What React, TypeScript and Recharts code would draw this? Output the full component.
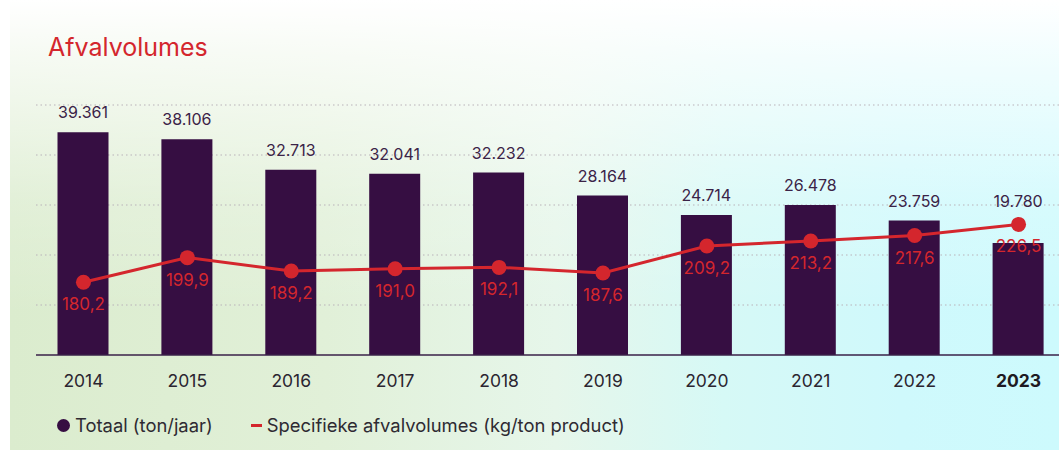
import React from "react";
import { ComposedChart, Bar, Line, XAxis, YAxis, CartesianGrid, LabelList } from "recharts";

const years = ["2014", "2015", "2016", "2017", "2018", "2019", "2020", "2021", "2022", "2023"];
const totals = [39361, 38106, 32713, 32041, 32232, 28164, 24714, 26478, 23759, 19780];
const specific = [180.2, 199.9, 189.2, 191.0, 192.1, 187.6, 209.2, 213.2, 217.6, 226.5];
const gridTicks = [162, 202, 242, 282, 322];
const lineDomain = [122, 362];
const highlightYear = "2023";
const title = "Afvalvolumes";
const legendTotal = "Totaal (ton/jaar)";
const legendSpecific = "Specifieke afvalvolumes (kg/ton product)";

const data = years.map((y, i) => ({ year: y, total: totals[i], specific: specific[i] }));

const FONT = "Inter, 'Noto Sans', sans-serif";
const PURPLE = "#360e42";
const RED = "#d4262d";

const fmtThousands = (v: any) => {
  const s = String(Math.round(Number(v)));
  return s.replace(/\B(?=(\d{3})+(?!\d))/g, ".");
};
const fmtComma = (v: any) => Number(v).toFixed(1).replace(".", ",");

const Tick = (props: any) => {
  const { x, y, payload } = props;
  const bold = payload.value === highlightYear;
  return (
    <text x={x} y={y + 24} textAnchor="middle" fontFamily={FONT} fontSize={17.5}
      fontWeight={bold ? 700 : 400} fill={bold ? "#1e1a22" : "#2b2530"}>
      {payload.value}
    </text>
  );
};

const BarLabel = (props: any) => {
  const { x, y, width, value, index } = props;
  const isHighlight = years[index] === highlightYear;
  const off = isHighlight ? 36 : 14;
  return (
    <text x={x + width / 2} y={y - off} textAnchor="middle" fontFamily={FONT} fontSize={16} fill="#3b2347">
      {fmtThousands(value)}
    </text>
  );
};

const gridGen = (args: any) => {
  const yAxis = args && args.yAxis;
  if (yAxis && typeof yAxis.scale === "function") return gridTicks.map((t) => yAxis.scale(t));
  const off = args && args.offset;
  if (!off) return [];
  return gridTicks.map((t) => off.top + off.height * (1 - (t - lineDomain[0]) / (lineDomain[1] - lineDomain[0])));
};

export default function App() {
  return (
    <div style={{ position: "absolute", left: 0, top: 0, width: 1059, height: 450, overflow: "hidden", background: "#fff" }}>
      <div style={{
        position: "absolute", left: 10, top: 0, width: 1049, height: 450,
        background: "linear-gradient(180deg, rgba(255,255,255,1) 0%, rgba(255,255,255,0.75) 12%, rgba(255,255,255,0.2) 45%, rgba(255,255,255,0) 70%), linear-gradient(90deg, #dbecce 0%, #e1f0d8 30%, #e6f6ea 52%, #d6f9f6 68%, #cff9fc 85%, #cdfafd 100%)"
      }} />
      <div style={{ position: "absolute", left: 48, top: 31, fontFamily: FONT, fontSize: 25, color: RED, lineHeight: "32px" }}>
        {title}
      </div>
      <div style={{ position: "absolute", left: 0, top: 0 }}>
        <ComposedChart width={1080} height={450} data={data} margin={{ top: 55, right: 0, left: 36, bottom: 0 }}>
          <CartesianGrid yAxisId="right" vertical={false} stroke="#b9b2b9" strokeDasharray="1.5 3"
            horizontalCoordinatesGenerator={gridGen} />
          <XAxis dataKey="year" height={95} tickLine={false} axisLine={{ stroke: "#3a2048", strokeWidth: 1.5 }}
            tick={<Tick />} padding={{ left: -4.5, right: 9.5 }} interval={0} />
          <YAxis yAxisId="left" width={0} domain={[0, 53000]} tick={false} tickLine={false}
            axisLine={{ stroke: "#7a6a86", strokeWidth: 1 }} />
          <YAxis yAxisId="right" orientation="right" hide domain={lineDomain} ticks={gridTicks} />
          <Bar yAxisId="left" dataKey="total" fill={PURPLE} barSize={51} isAnimationActive={false}>
            <LabelList dataKey="total" content={<BarLabel />} />
          </Bar>
          <Line yAxisId="right" dataKey="specific" stroke={RED} strokeWidth={3} isAnimationActive={false}
            dot={{ r: 7.5, fill: RED, stroke: "none" }} activeDot={false}>
            <LabelList dataKey="specific" position="bottom" offset={16} formatter={fmtComma}
              style={{ fontFamily: FONT, fontSize: 17, fill: RED }} />
          </Line>
        </ComposedChart>
      </div>
      <div style={{ position: "absolute", left: 57, top: 412, display: "flex", alignItems: "center", fontFamily: FONT, fontSize: 18.4, color: "#2e2a32", lineHeight: "26px", whiteSpace: "nowrap" }}>
        <span style={{ display: "inline-block", width: 13, height: 13, borderRadius: "50%", background: PURPLE, marginRight: 5 }} />
        <span>{legendTotal}</span>
        <span style={{ display: "inline-block", width: 11, height: 3, background: RED, marginLeft: 38, marginRight: 5 }} />
        <span>{legendSpecific}</span>
      </div>
    </div>
  );
}
